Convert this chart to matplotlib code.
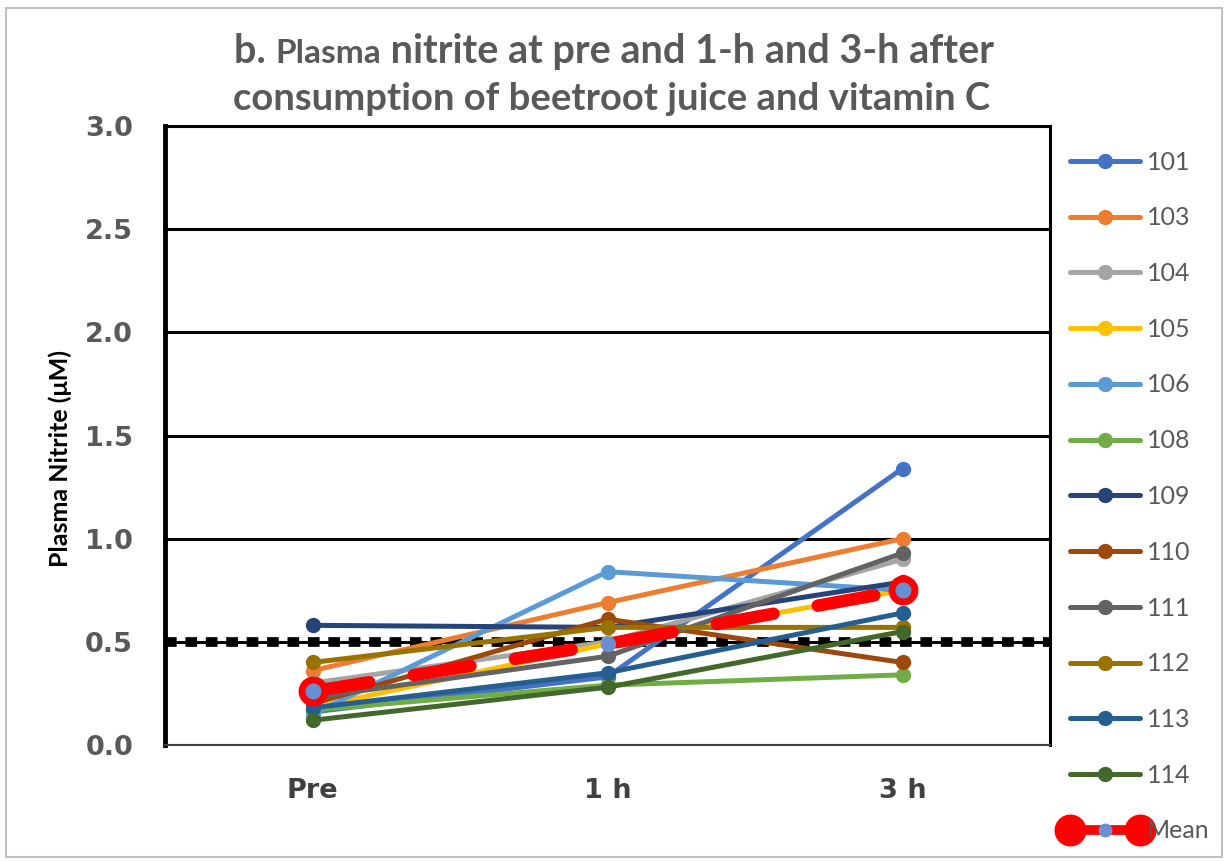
import matplotlib
matplotlib.use("Agg")
from matplotlib import pyplot as plt
from matplotlib.lines import Line2D
from matplotlib.patches import Rectangle
from matplotlib.legend_handler import HandlerLine2D, HandlerTuple

plt.rcParams['font.family'] = ['Lato', 'DejaVu Sans']

# data
times = ['Pre', '1 h', '3 h']
ids = ['101', '103', '104', '105', '106', '108', '109', '110', '111', '112', '113', '114']
s101 = [0.16, 0.33, 1.34]
s103 = [0.36, 0.69, 1.00]
s104 = [0.30, 0.50, 0.90]
s105 = [0.18, 0.49, 0.75]
s106 = [0.15, 0.84, 0.75]
s108 = [0.17, 0.29, 0.34]
s109 = [0.58, 0.57, 0.79]
s110 = [0.20, 0.61, 0.40]
s111 = [0.23, 0.43, 0.93]
s112 = [0.40, 0.57, 0.57]
s113 = [0.18, 0.35, 0.64]
s114 = [0.12, 0.28, 0.55]
mean = [0.26, 0.49, 0.75]
series = [s101, s103, s104, s105, s106, s108, s109, s110, s111, s112, s113, s114]
colors = ['#4472C4', '#ED7D31', '#A5A5A5', '#FFC000', '#5B9BD5', '#70AD47',
          '#264478', '#9E480E', '#636363', '#997300', '#255E91', '#43682B']
threshold = 0.5

fig = plt.figure(figsize=(12.29, 8.61), dpi=100)
ax = fig.add_axes([165/1229, 1-745/861, (1050-165)/1229, (745-126)/861])

x = range(len(times))
for vals, c, lab in zip(series, colors, ids):
    ax.plot(x, vals, color=c, lw=3.6, marker='o', ms=10, label=lab,
            solid_capstyle='round', zorder=3)

# threshold dotted line
ax.axhline(threshold, color='black', lw=7, linestyle=(0, (1.2, 0.9)), zorder=2.5)

# mean: dashed red line, red rings at the ends only
ax.plot(x, mean, color='#FF0000', lw=9, linestyle=(0, (4.6, 3.6)),
        dash_capstyle='round', marker='o', ms=10, mfc='#6A8FD0', mec='#6A8FD0', zorder=4)
ax.plot(x, mean, ls='none', marker='o', ms=16.5, mew=5, markevery=[0, 2],
        mfc='#6A8FD0', mec='#FF0000', zorder=5)

ax.set_xlim(-0.5, 2.5)
ax.set_ylim(0, 3.0)
ax.set_yticks([0, 0.5, 1.0, 1.5, 2.0, 2.5, 3.0])
ax.set_yticklabels(['0.0', '0.5', '1.0', '1.5', '2.0', '2.5', '3.0'])
ax.set_xticks(list(x))
ax.set_xticklabels(times)
ax.tick_params(length=0)
ax.tick_params(axis='y', pad=23, labelsize=19.5, labelcolor='#595959')
ax.tick_params(axis='x', pad=24, labelsize=19.5, labelcolor='#404040')
for t in ax.get_xticklabels() + ax.get_yticklabels():
    t.set_fontweight('bold')
    t.set_family('DejaVu Sans')
ax.yaxis.grid(True, color='black', lw=2.2)
ax.set_axisbelow(True)
for side in ['top', 'right']:
    ax.spines[side].set_linewidth(2.2)
ax.spines['left'].set_linewidth(3.5)
ax.spines['bottom'].set_linewidth(1.5)
ax.spines['bottom'].set_color('#404040')

ax.set_ylabel('Plasma Nitrite (\u03bcM)', fontsize=18, fontweight='bold', color='black')
ax.yaxis.set_label_coords(-0.105, 0.463)

# legend
handles, labels = ax.get_legend_handles_labels()
m_ends = Line2D([], [], color='#FF0000', lw=7, marker='o', ms=22, mfc='#FF0000', mec='#FF0000')
m_mid = Line2D([], [], ls='none', marker='o', ms=9, mfc='#6A8FD0', mec='#6A8FD0')
handles.append((m_ends, m_mid))
labels.append('Mean')
leg = fig.legend(handles, labels, loc='upper left', bbox_to_anchor=(1047/1229, 1-128/861),
                 frameon=False, fontsize=18, labelcolor='#595959', handlelength=2.8,
                 handletextpad=0.28, labelspacing=1.31,
                 handler_map={m_ends: HandlerLine2D(numpoints=2, marker_pad=0),
                              tuple: HandlerTuple(ndivide=1)})

# chart border
fig.patches.append(Rectangle((6/1229, 4/861), 1216/1229, 849/861, transform=fig.transFigure,
                             fill=False, edgecolor='#BFBFBF', lw=1.5))

# title with smaller "Plasma"
renderer = fig.canvas.get_renderer()
tcol = '#595959'
parts = [('b. ', 28.5), ('Plasma', 24), (' nitrite at pre and 1-h and 3-h after', 28.5)]
texts = []
for s, fs in parts:
    texts.append(fig.text(0, 0, s, fontsize=fs, fontweight='bold', color=tcol,
                          va='baseline', ha='left'))
widths = [t.get_window_extent(renderer).width for t in texts]
total = sum(widths)
xpos = 614 - total/2
for t, w in zip(texts, widths):
    t.set_position((xpos/1229, 1-63/861))
    xpos += w
fig.text(612/1229, 1-110/861, 'consumption of beetroot juice and vitamin C', fontsize=27.5,
         fontweight='bold', color=tcol, ha='center', va='baseline')

plt.savefig('out.png', dpi=100)
